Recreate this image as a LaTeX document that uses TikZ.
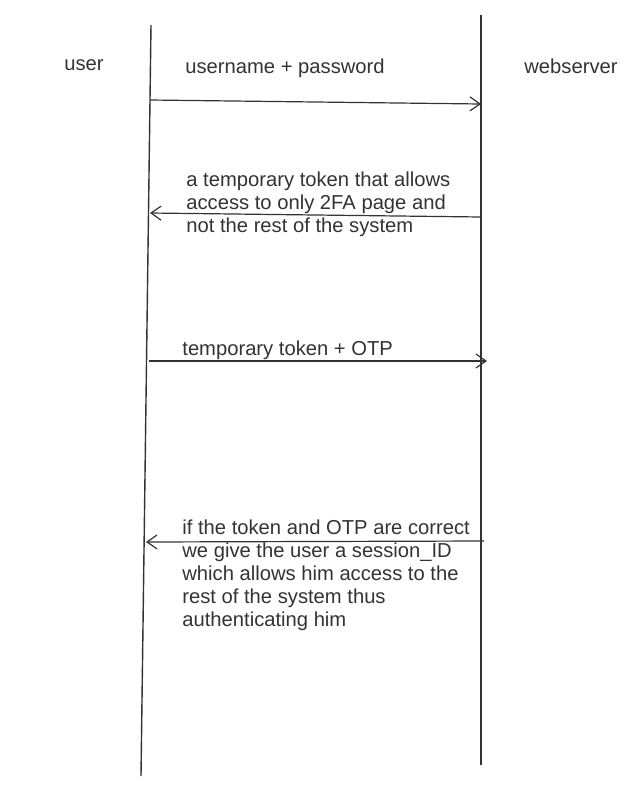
\documentclass[tikz,border=0pt]{standalone}
\usepackage{fontspec}
\setmainfont{Liberation Sans}
\usepackage{xcolor}
\usetikzlibrary{arrows.meta,positioning}
\definecolor{inkgray}{HTML}{333333}
\tikzset{>={Straight Barb[length=5pt,width=7pt]}}
\tikzset{
  lifeline/.style={draw=inkgray, line width=0.7pt},
  msg/.style={->, draw=inkgray, line width=0.6pt},
  msgtext/.style={anchor=base west, inner sep=0pt, align=left, text=inkgray,
    font=\fontsize{10.1}{11.5}\selectfont}
}

\begin{document}
\begin{tikzpicture}[x=0.5pt,y=-0.5pt]
\useasboundingbox (0,0) rectangle (640,788);
% lifelines
\coordinate (utop) at (151,25);
\coordinate (ubot) at (141,776);
\coordinate (wtop) at (481,15);
\coordinate (wbot) at (481,765);
\draw[lifeline] (utop) -- (ubot);
\draw[lifeline] (wtop) -- (wbot);
\node[msgtext, anchor=base] (user) at (84,70) {user};
\node[msgtext, anchor=base] (webserver) at (571,73) {webserver};
% 1) login
\coordinate (u1) at (150,100);
\coordinate (w1) at (481,104);
\draw[msg] (u1) -- (w1);
\node[msgtext] (m1) at (185,73) {username + password};
% 2) temporary token (base = last line)
\coordinate (w2) at (481,217);
\coordinate (u2) at (150,213);
\draw[msg] (w2) -- (u2);
\node[msgtext] (m2) at (186,232) {a temporary token that allows\\access to only 2FA page and\\not the rest of the system};
% 3) otp
\coordinate (u3) at (149,361);
\coordinate (w3) at (487,361);
\draw[msg] (u3) -- (w3);
\node[msgtext] (m3) at (182,355) {temporary token + OTP};
% 4) session id (base = last line)
\coordinate (w4) at (484,541);
\coordinate (u4) at (146,542);
\draw[msg] (w4) -- (u4);
\node[msgtext] (m4) at (182,626) {if the token and OTP are correct\\we give the user a session\_ID\\which allows him access to the\\rest of the system thus\\authenticating him};
\end{tikzpicture}
\end{document}
